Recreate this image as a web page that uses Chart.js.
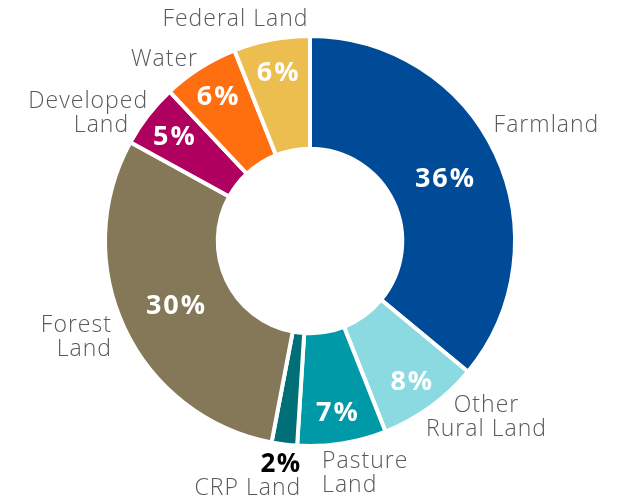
<!DOCTYPE html>
<html><head><meta charset="utf-8">
<style>html,body{margin:0;padding:0;background:#fff}#wrap{width:618px;height:497px}</style>
<script src="https://cdn.jsdelivr.net/npm/chart.js@4/dist/chart.umd.min.js"></script>
</head><body><div id="wrap"><canvas id="c" width="618" height="497"></canvas></div>
<script>
const categories = ['Farmland','Other Rural Land','Pasture Land','CRP Land','Forest Land','Developed Land','Water','Federal Land'];
const shares = [36, 8, 7, 2, 30, 5, 6, 6];
const labelLines = [['Farmland'],['Other','Rural Land'],['Pasture','Land'],['CRP Land'],['Forest','Land'],['Developed','Land'],['Water'],['Federal Land']];
const colors = ['#004B97','#8BDAE1','#0099A8','#006F77','#857858','#AF0060','#FF6F10','#ECBD4F'];

// label placement: angle (deg clockwise from top), radius factor of outer radius, alignment,
// pf = radial position of the percentage inside the ring (0 inner edge, 1 outer edge), ldx = per-line x shift
const placement = [
  {ang:63.6, rf:1.285, align:'center', pf:0.5},
  {ang:134.8, rf:1.21, align:'center', pf:0.71},
  {ang:177.0, rf:1.128, align:'left', pf:0.71},
  {ang:182.4, rf:1.142, align:'right', pf:0.71},
  {ang:244.5, rf:1.076, align:'right', pf:0.5},
  {ang:308.4, rf:1.014, align:'right', pf:0.71, ldx:[0,-19]},
  {ang:328.3, rf:1.049, align:'right', pf:0.71},
  {ang:341.4, rf:1.148, align:'center', pf:0.71}
];
const FONT = '"Open Sans", sans-serif';
const CAP = 0.714;

const labelPlugin = {
  id: 'labels',
  afterDatasetsDraw(chart) {
    const ctx = chart.ctx;
    const meta = chart.getDatasetMeta(0);
    ctx.save();
    ctx.textBaseline = 'alphabetic';
    meta.data.forEach((arc, i) => {
      const p = placement[i];
      const a = p.ang * Math.PI / 180;
      const r = arc.outerRadius * p.rf;
      const x = arc.x + r * Math.sin(a);
      const y = arc.y - r * Math.cos(a);
      const lh = 24;
      const lines = labelLines[i];
      const pct = shares[i] + '%';
      const outsidePct = (i === 3);
      const n = lines.length + (outsidePct ? 1 : 0);
      let y0 = y - (n - 1) * lh / 2;
      ctx.textAlign = p.align;
      if (outsidePct) {
        ctx.letterSpacing = '1.5px';
        ctx.font = 'bold 26px ' + FONT;
        ctx.fillStyle = '#000';
        ctx.fillText(pct, x + 1.5, y0 + 26 * CAP / 2);
        y0 += lh;
      }
      ctx.letterSpacing = '1px';
      ctx.font = '300 23px ' + FONT;
      ctx.fillStyle = '#58595B';
      const sx = p.align === 'right' ? 1 : (p.align === 'center' ? 0.5 : 0);
      lines.forEach((t, k) => {
        const dx = (p.ldx ? p.ldx[k] : 0) + sx;
        ctx.fillText(t, x + dx, y0 + k * lh + 23 * CAP / 2);
      });
      if (!outsidePct) {
        const mid = (arc.startAngle + arc.endAngle) / 2;
        const pr = arc.innerRadius + (arc.outerRadius - arc.innerRadius) * p.pf;
        const cx = arc.x + pr * Math.cos(mid);
        const cy = arc.y + pr * Math.sin(mid);
        ctx.letterSpacing = '2px';
        ctx.font = 'bold 27px ' + FONT;
        ctx.fillStyle = '#fff';
        ctx.textAlign = 'center';
        ctx.fillText(pct, cx + 1, cy + 27 * CAP / 2);
      }
    });
    ctx.restore();
  }
};

new Chart(document.getElementById('c'), {
  type: 'doughnut',
  data: { labels: categories, datasets: [{ data: shares, backgroundColor: colors, borderColor: '#fff', borderWidth: 4, hoverOffset: 0 }] },
  options: {
    responsive: false, animation: false, cutout: '45%',
    layout: { padding: { top: 34, bottom: 49, left: 103, right: 101 } },
    plugins: { legend: { display: false }, tooltip: { enabled: false } }
  },
  plugins: [labelPlugin]
});
</script></body></html>
